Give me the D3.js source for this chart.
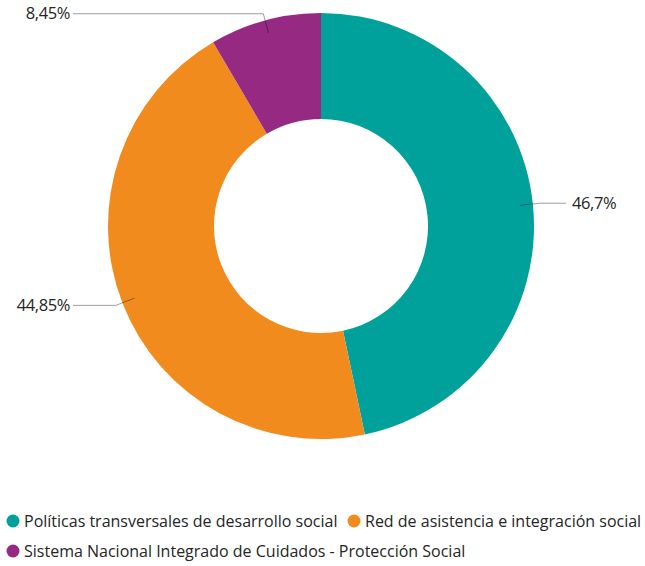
<!DOCTYPE html>
<html><head><meta charset="utf-8">
<script src="https://cdn.jsdelivr.net/npm/d3@7"></script>
<style>body{margin:0;background:#fff;} svg{display:block;font-family:"Open Sans","Noto Sans",sans-serif;}</style>
</head><body>
<svg id="c" width="645" height="566"></svg>
<script>
const categories = ["Políticas transversales de desarrollo social","Red de asistencia e integración social","Sistema Nacional Integrado de Cuidados - Protección Social"];
const values = [46.7, 44.85, 8.45];
const labels = ["46,7%","44,85%","8,45%"];
const colors = ["#00a19a","#f28b1e","#962a83"];

const svg = d3.select("#c");
const cx = 321, cy = 226, R = 213, r0 = 107;
const g = svg.append("g").attr("transform",`translate(${cx},${cy})`);
const pie = d3.pie().sort(null).value(d=>d)(values);
const arc = d3.arc().innerRadius(r0).outerRadius(R);
g.selectAll("path.s").data(pie).join("path").attr("class","s")
  .attr("d",arc).attr("fill",(d,i)=>colors[i]);

const pt = (a, rad) => [rad*Math.sin(a), -rad*Math.cos(a)];
pie.forEach((d,i)=>{
  const m = (d.startAngle+d.endAngle)/2;
  const p1 = pt(m,200), p2 = pt(m,220);
  const right = Math.sin(m) > 0;
  const xEnd = right ? 566-cx : 73-cx;
  g.append("polyline").attr("points",[p1,p2,[xEnd,p2[1]]].map(p=>p.join(",")).join(" "))
    .attr("fill","none").attr("stroke","rgba(0,0,0,0.38)").attr("stroke-width",1);
  g.append("text").attr("x", right ? xEnd+6 : xEnd-3).attr("y",p2[1])
    .attr("dy","0.35em").attr("text-anchor", right?"start":"end")
    .attr("font-size",16.5).attr("fill","#252525").attr("letter-spacing","-0.4")
    .text(labels[i]);
});

const legendPos = [[13,521],[354,521],[13,551]];
categories.forEach((c,i)=>{
  const [x,y] = legendPos[i];
  svg.append("circle").attr("cx",x).attr("cy",y).attr("r",6.5).attr("fill",colors[i]);
  svg.append("text").attr("x",x+11).attr("y",y).attr("dy","0.35em")
    .attr("font-size",16).attr("fill","#252525").text(c);
});
</script>
</body></html>
